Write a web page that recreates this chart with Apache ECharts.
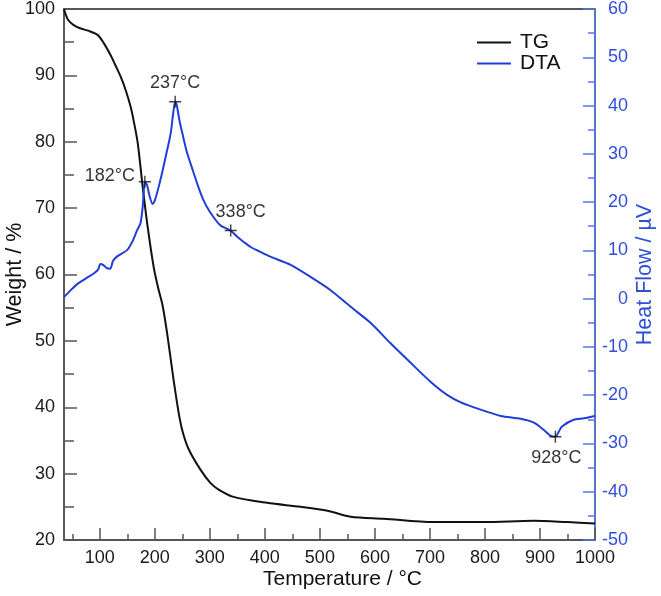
<!DOCTYPE html>
<html>
<head>
<meta charset="utf-8">
<script src="https://cdn.jsdelivr.net/npm/echarts@6.0.0/dist/echarts.min.js"></script>
<style>
  html, body { margin: 0; padding: 0; background: #fff; }
  #chart { width: 661px; height: 596px; }
</style>
</head>
<body>
<div id="chart"></div>
<script>
// TG curve (temperature °C, weight %)
const tgTemp = [35, 38, 43, 52, 64, 80, 96, 107, 120, 128, 138, 147, 156, 162, 169, 178, 187, 198, 206, 214, 223, 234, 245, 252, 262, 283, 301, 316, 343, 404, 465, 514, 556, 616, 707, 798, 889, 950, 1000]
const tgWeight = [100, 99.2, 98.3, 97.6, 97.1, 96.7, 96.1, 94.9, 93.0, 91.6, 89.8, 87.8, 85.3, 83, 79.8, 73.2, 67.2, 61.1, 58.0, 55.4, 50.8, 44.2, 38.4, 35.9, 33.6, 30.6, 28.6, 27.6, 26.5, 25.6, 25.0, 24.4, 23.5, 23.2, 22.7, 22.7, 22.9, 22.7, 22.5]

// DTA curve (temperature °C, heat flow µV)
const dtaTemp = [35, 45, 59, 75, 89, 97, 101, 106, 113, 119, 124, 130, 150, 160, 168, 174, 178, 182, 186, 190, 196, 200, 210, 220, 229, 233, 237, 240, 245, 250, 258, 267, 278, 288, 300, 319, 338, 350, 361, 374, 390, 410, 447, 483, 519, 556, 592, 628, 665, 701, 732, 756, 792, 829, 865, 889, 907, 918, 928, 934, 940, 961, 980, 1000]
const dtaFlow = [0.3, 1.5, 3.0, 4.2, 5.2, 6.0, 7.2, 7.0, 6.3, 6.2, 7.8, 8.6, 10.1, 12.0, 14.2, 15.6, 19.0, 24.2, 23.5, 21.5, 19.6, 20.3, 24.5, 29.5, 34.3, 38.0, 40.8, 40.0, 36.8, 34.3, 30.5, 27.3, 23.5, 20.5, 18.0, 15.2, 14.1, 12.8, 11.8, 10.7, 9.8, 8.7, 7.0, 4.5, 1.8, -1.7, -5.0, -9.2, -13.3, -17.2, -20.0, -21.5, -23.0, -24.3, -24.9, -25.7, -27.2, -28.3, -28.6, -27.6, -26.5, -25.1, -24.8, -24.3]

// marked peaks on DTA
const peakTemp = [182, 237, 338, 928]
const peakFlow = [24.2, 40.8, 14.1, -28.6]
const peakText = ['182°C', '237°C', '338°C', '928°C']

// x axis ticks
const xMajor = [100, 200, 300, 400, 500, 600, 700, 800, 900, 1000]
const xMinor = [50, 150, 250, 350, 450, 550, 650, 750, 850, 950]

const FONT = 'Liberation Sans, Arial, sans-serif'
const BLUE = '#1f3fd6'
const AXISBLUE = '#5575e6'
const LABELBLUE = '#2f4fd8'
const GREY = '#555'

// label placement for each peak
const peakLabel = [
  { position: 'left', distance: 4, offset: [0, -6] },
  { position: 'top', distance: 4, offset: [0, 0] },
  { position: 'top', distance: 4, offset: [10, 0] },
  { position: 'bottom', distance: 6, offset: [1, 0] }
]

let tgData = tgTemp.map((t, i) => [t, tgWeight[i]])
let dtaData = dtaTemp.map((t, i) => [t, dtaFlow[i]])
let peakData = peakTemp.map((t, i) => ({
  value: [t, peakFlow[i]],
  name: peakText[i],
  label: peakLabel[i]
}))

let myChart = echarts.init(document.getElementById('chart'), null, { renderer: 'canvas' })
let option = {
  animation: false,
  textStyle: { fontFamily: FONT },
  grid: {
    left: 64, right: 66, top: 9, bottom: 56,
    containLabel: false, outerBoundsMode: 'none',
    show: true, borderColor: '#222', borderWidth: 1.3, backgroundColor: 'transparent'
  },
  legend: {
    data: ['TG', 'DTA'],
    orient: 'vertical',
    left: 477,
    top: 32,
    padding: 0,
    icon: 'rect',
    itemWidth: 34,
    itemHeight: 2,
    itemGap: 0,
    textStyle: { fontSize: 21, color: '#111', fontFamily: FONT, padding: [0, 0, 0, 4] }
  },
  xAxis: [
    {
      type: 'value', min: 35, max: 1000,
      name: 'Temperature / °C', nameLocation: 'middle', nameGap: 29, nameMoveOverlap: false,
      nameTextStyle: { fontSize: 21, color: '#111', fontFamily: FONT, padding: [0, 0, 0, 26] },
      axisLine: { show: true, onZero: false, lineStyle: { color: GREY, width: 1.5 } },
      axisTick: { show: true, inside: true, length: 12, customValues: xMajor, lineStyle: { color: GREY, width: 1.5 } },
      axisLabel: { customValues: xMajor, formatter: (v) => String(v), fontSize: 18, color: '#1a1a1a', margin: 9, fontFamily: FONT },
      splitLine: { show: false }
    },
    {
      type: 'value', min: 35, max: 1000, position: 'bottom',
      axisLine: { show: false, onZero: false },
      axisTick: { show: true, inside: true, length: 6, customValues: xMinor, lineStyle: { color: GREY, width: 1.5 } },
      axisLabel: { show: false },
      splitLine: { show: false }
    }
  ],
  yAxis: [
    {
      type: 'value', min: 20, max: 100, interval: 10, position: 'left',
      name: 'Weight / %', nameLocation: 'middle', nameGap: 38, nameRotate: 90, nameMoveOverlap: false,
      nameTextStyle: { fontSize: 21.5, color: '#111', fontFamily: FONT },
      axisLine: { show: true, onZero: false, lineStyle: { color: GREY, width: 1.5 } },
      axisTick: { show: true, inside: true, length: 13, lineStyle: { color: GREY, width: 1.5 } },
      minorTick: { show: true, splitNumber: 2, length: 10, lineStyle: { color: GREY, width: 1.5 } },
      axisLabel: { fontSize: 18, color: '#1a1a1a', margin: 9, fontFamily: FONT },
      splitLine: { show: false }
    },
    {
      type: 'value', min: -50, max: 60, interval: 10, position: 'right',
      name: 'Heat Flow / µV', nameLocation: 'middle', nameGap: 39, nameRotate: 90, nameMoveOverlap: false,
      nameTextStyle: { fontSize: 21.5, color: LABELBLUE, fontFamily: FONT },
      axisLine: { show: true, onZero: false, lineStyle: { color: AXISBLUE, width: 1.5 } },
      axisTick: { show: true, inside: true, length: 12, lineStyle: { color: AXISBLUE, width: 1.5 } },
      minorTick: { show: true, splitNumber: 2, length: 7, lineStyle: { color: AXISBLUE, width: 1.5 } },
      axisLabel: { fontSize: 18, color: LABELBLUE, margin: 33, align: 'right', fontFamily: FONT },
      splitLine: { show: false }
    }
  ],
  series: [
    {
      name: 'TG', type: 'line', xAxisIndex: 0, yAxisIndex: 0,
      data: tgData, symbol: 'none', smooth: 0.3,
      lineStyle: { color: '#111', width: 2 }, itemStyle: { color: '#111' }
    },
    {
      name: 'DTA', type: 'line', xAxisIndex: 0, yAxisIndex: 1,
      data: dtaData, symbol: 'none', smooth: 0.25,
      lineStyle: { color: BLUE, width: 2 }, itemStyle: { color: BLUE }
    },
    {
      name: 'peaks', type: 'scatter', xAxisIndex: 0, yAxisIndex: 1,
      data: peakData, z: 5,
      symbol: 'path://M4.4,0h1.2v4.4h4.4v1.2h-4.4v4.4h-1.2v-4.4h-4.4v-1.2h4.4z',
      symbolSize: 12,
      itemStyle: { color: '#111' },
      label: {
        show: true, formatter: '{b}', fontSize: 18, color: '#000', fontFamily: FONT
      }
    }
  ]
}
myChart.setOption(option)
</script>
</body>
</html>
